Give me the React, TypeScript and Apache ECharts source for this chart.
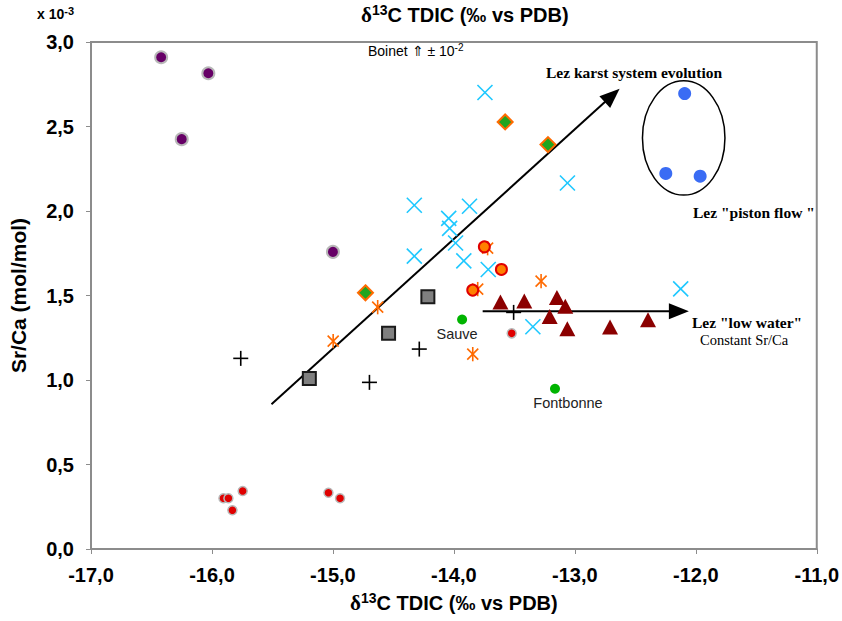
import React, { useEffect, useRef } from "react";
import * as echarts from "echarts";

// Axis ticks
const xTicks = [-17, -16, -15, -14, -13, -12, -11];
const yTicks = [0, 0.5, 1, 1.5, 2, 2.5, 3];

// Series (δ13C, Sr/Ca x1e-3)
const boinet: number[][] = [[-16.42, 2.91], [-16.03, 2.815], [-16.25, 2.425], [-15.0, 1.758]];
const redSmall: number[][] = [[-15.905, 0.3], [-15.864, 0.3], [-15.831, 0.229], [-15.746, 0.343], [-15.037, 0.333], [-14.941, 0.3], [-13.522, 1.276]];
const pistonFlow: number[][] = [[-12.092, 2.695], [-12.248, 2.222], [-11.964, 2.206]];
const diamonds: number[][] = [[-13.576, 2.527], [-13.222, 2.393], [-14.731, 1.516]];
const cyanX: number[][] = [[-13.743, 2.701], [-13.061, 2.166], [-14.327, 2.034], [-13.871, 2.028], [-14.043, 1.956], [-14.035, 1.897], [-13.986, 1.811], [-14.327, 1.733], [-13.918, 1.705], [-13.716, 1.654], [-12.125, 1.539], [-13.347, 1.315]];
const stars: number[][] = [[-13.721, 1.78], [-13.803, 1.538], [-13.279, 1.585], [-14.63, 1.431], [-14.998, 1.23], [-13.844, 1.153]];
const orangeCircles: number[][] = [[-13.748, 1.788], [-13.607, 1.654], [-13.844, 1.532]];
const squares: number[][] = [[-15.195, 1.009], [-14.54, 1.276], [-14.215, 1.492]];
const plusPts: number[][] = [[-15.762, 1.128], [-14.698, 0.986], [-14.286, 1.183], [-13.506, 1.4]];
const triangles: number[][] = [[-13.615, 1.461], [-13.418, 1.467], [-13.148, 1.488], [-13.079, 1.437], [-13.208, 1.376], [-13.062, 1.303], [-12.709, 1.313], [-12.395, 1.356]];
const springNames = ["Sauve", "Fontbonne"];
const springs: number[][] = [[-13.932, 1.358], [-13.164, 0.948]];
const arrows: number[][] = [[-15.508, 0.856, -12.63, 2.724], [-13.762, 1.407, -12.057, 1.407]];
const ellipses: number[][] = [[-12.1, 2.432, 0.341, 0.338]];

const fmt = (v: number) => v.toFixed(1).replace(".", ",");

function lineMarker(segs: number[][], half: number, color: string, lw: number) {
  return (params: any, api: any) => {
    const c = api.coord([api.value(0), api.value(1)]);
    return {
      type: "group",
      children: segs.map((s) => ({
        type: "line",
        shape: { x1: c[0] + s[0] * half, y1: c[1] + s[1] * half, x2: c[0] + s[2] * half, y2: c[1] + s[3] * half },
        style: { stroke: color, lineWidth: lw },
      })),
    };
  };
}

const SANS = "'Liberation Sans', Arial, sans-serif";
const SERIF = "'Liberation Serif', 'Times New Roman', serif";

const nameRich = {
  d: { fontSize: 21, fontWeight: "bold", fontFamily: SERIF, color: "#000" },
  s: { fontSize: 14, fontWeight: "bold", fontFamily: SANS, color: "#000", padding: [0, 0, 9, 0] },
  t: { fontSize: 20, fontWeight: "bold", fontFamily: SANS, color: "#000" },
};

export default function App() {
  const ref = useRef<HTMLDivElement>(null);
  useEffect(() => {
    document.body.style.margin = "0";
    const chart = echarts.init(ref.current!, null, { renderer: "svg" });
    const option: any = {
      animation: false,
      backgroundColor: "#fff",
      title: {
        text: "{d|δ}{s|13}{t|C TDIC (‰ vs PDB)}",
        left: 356,
        top: -2,
        textStyle: { rich: nameRich },
      },
      grid: { left: 90, right: 20, top: 42, bottom: 72, show: true, borderColor: "#8c8c8c", borderWidth: 2, backgroundColor: "#fff" },
      xAxis: {
        type: "value",
        min: xTicks[0],
        max: xTicks[xTicks.length - 1],
        interval: 1,
        name: "{d|δ}{s|13}{t|C TDIC (‰ vs PDB)}",
        nameLocation: "middle",
        nameGap: 42,
        nameTextStyle: { rich: nameRich },
        axisLine: { lineStyle: { color: "#8c8c8c", width: 2 } },
        axisTick: { show: true, length: 5, lineStyle: { color: "#8c8c8c" } },
        splitLine: { show: false },
        axisLabel: { formatter: fmt, fontSize: 20, fontWeight: "bold", fontFamily: SANS, color: "#000", margin: 16 },
      },
      yAxis: {
        type: "value",
        min: yTicks[0],
        max: yTicks[yTicks.length - 1],
        interval: 0.5,
        name: "Sr/Ca (mol/mol)",
        nameLocation: "middle",
        nameGap: 62,
        nameTextStyle: { fontSize: 21, fontWeight: "bold", fontFamily: SANS, color: "#000" },
        axisLine: { lineStyle: { color: "#8c8c8c", width: 2 } },
        axisTick: { show: true, length: 5, lineStyle: { color: "#8c8c8c" } },
        splitLine: { show: false },
        axisLabel: { formatter: fmt, fontSize: 20, fontWeight: "bold", fontFamily: SANS, color: "#000", margin: 17 },
      },
      graphic: [
        {
          type: "text",
          x: 37,
          y: 5,
          style: {
            text: "{a|x 10}{s|-3}",
            rich: {
              a: { fontSize: 14, fontWeight: "bold", fontFamily: SANS, fill: "#000" },
              s: { fontSize: 11, fontWeight: "bold", fontFamily: SANS, fill: "#000", padding: [0, 0, 7, 0] },
            },
          },
        },
        {
          type: "text",
          x: 368,
          y: 42,
          style: {
            text: "{a|Boinet ⇑ ± 10}{s|-2}",
            rich: {
              a: { fontSize: 14, fontFamily: SANS, fill: "#000" },
              s: { fontSize: 10, fontFamily: SANS, fill: "#000", padding: [0, 0, 7, 0] },
            },
          },
        },
        { type: "text", x: 546, y: 64, style: { text: "Lez karst system evolution", font: `bold 15.5px ${SERIF}`, fill: "#000" } },
        { type: "text", x: 693, y: 204, style: { text: 'Lez "piston flow "', font: `bold 15.5px ${SERIF}`, fill: "#000" } },
        { type: "text", x: 692, y: 314, style: { text: 'Lez "low water"', font: `bold 15.5px ${SERIF}`, fill: "#000" } },
        { type: "text", x: 700, y: 332, style: { text: "Constant Sr/Ca", font: `14.5px ${SERIF}`, fill: "#000" } },
      ],
      series: [
        {
          type: "custom",
          name: "ellipse",
          data: ellipses,
          encode: { x: 0, y: 1 },
          renderItem: (params: any, api: any) => {
            const c = api.coord([api.value(0), api.value(1)]);
            const s = api.size([api.value(2), api.value(3)], [api.value(0), api.value(1)]);
            return { type: "ellipse", shape: { cx: c[0], cy: c[1], rx: s[0], ry: s[1] }, style: { fill: "none", stroke: "#000", lineWidth: 1.5 } };
          },
        },
        {
          type: "custom",
          name: "arrows",
          data: arrows,
          encode: { x: [0, 2], y: [1, 3] },
          renderItem: (params: any, api: any) => {
            const a = api.coord([api.value(0), api.value(1)]);
            const b = api.coord([api.value(2), api.value(3)]);
            const dx = b[0] - a[0];
            const dy = b[1] - a[1];
            const len = Math.hypot(dx, dy);
            const ux = dx / len;
            const uy = dy / len;
            const hl = 20;
            const hw = 8;
            const base = [b[0] - ux * hl, b[1] - uy * hl];
            return {
              type: "group",
              children: [
                { type: "line", shape: { x1: a[0], y1: a[1], x2: base[0] + ux * 2, y2: base[1] + uy * 2 }, style: { stroke: "#000", lineWidth: 2 } },
                {
                  type: "polygon",
                  shape: { points: [b, [base[0] - uy * hw, base[1] + ux * hw], [base[0] + uy * hw, base[1] - ux * hw]] },
                  style: { fill: "#000" },
                },
              ],
            };
          },
        },
        {
          type: "scatter",
          name: "boinet",
          data: boinet,
          symbol: "circle",
          symbolSize: 12,
          itemStyle: { color: "#660066", borderColor: "#b8b8b8", borderWidth: 2, opacity: 1 },
        },
        {
          type: "scatter",
          name: "red",
          data: redSmall,
          symbol: "circle",
          symbolSize: 9,
          itemStyle: { color: "#e00000", borderColor: "#b8b8b8", borderWidth: 1.5, opacity: 1 },
        },
        {
          type: "scatter",
          name: "piston",
          data: pistonFlow,
          symbol: "circle",
          symbolSize: 13,
          itemStyle: { color: "#3a6cf4", opacity: 1 },
        },
        {
          type: "scatter",
          name: "diamond",
          data: diamonds,
          symbol: "diamond",
          symbolSize: 15,
          itemStyle: { color: "#1fa51f", borderColor: "#ff6a00", borderWidth: 2, opacity: 1 },
        },
        {
          type: "custom",
          name: "cyanX",
          data: cyanX,
          encode: { x: 0, y: 1 },
          renderItem: lineMarker([[-1, -1, 1, 1], [-1, 1, 1, -1]], 7.5, "#1ec8ff", 1.6),
        },
        {
          type: "custom",
          name: "stars",
          data: stars,
          encode: { x: 0, y: 1 },
          renderItem: lineMarker([[-1, -1, 1, 1], [-1, 1, 1, -1], [0, -1.3, 0, 1.3]], 5.5, "#ff6a00", 1.6),
        },
        {
          type: "scatter",
          name: "orange",
          data: orangeCircles,
          symbol: "circle",
          symbolSize: 11,
          itemStyle: { color: "#ff8000", borderColor: "#e00000", borderWidth: 2, opacity: 1 },
        },
        {
          type: "scatter",
          name: "squares",
          data: squares,
          symbol: "rect",
          symbolSize: 13,
          itemStyle: { color: "#808080", borderColor: "#1a1a1a", borderWidth: 2, opacity: 1 },
        },
        {
          type: "custom",
          name: "plus",
          data: plusPts,
          encode: { x: 0, y: 1 },
          renderItem: lineMarker([[-1, 0, 1, 0], [0, -1, 0, 1]], 7.5, "#000", 1.6),
        },
        {
          type: "scatter",
          name: "triangles",
          data: triangles,
          symbol: "triangle",
          symbolSize: [16, 15],
          itemStyle: { color: "#8b0000", opacity: 1 },
        },
        {
          type: "scatter",
          name: "springs",
          data: springs.map((p, i) => ({ name: springNames[i], value: p, label: { offset: i === 0 ? [-5, 0] : [13, 0] } })),
          symbol: "circle",
          symbolSize: 10,
          itemStyle: { color: "#00b400", opacity: 1 },
          label: { show: true, formatter: "{b}", position: "bottom", distance: 2, fontSize: 14.5, fontFamily: SANS, color: "#222" },
        },
      ],
    };
    chart.setOption(option);
    return () => chart.dispose();
  }, []);
  return <div ref={ref} style={{ width: 842, height: 621 }} />;
}
